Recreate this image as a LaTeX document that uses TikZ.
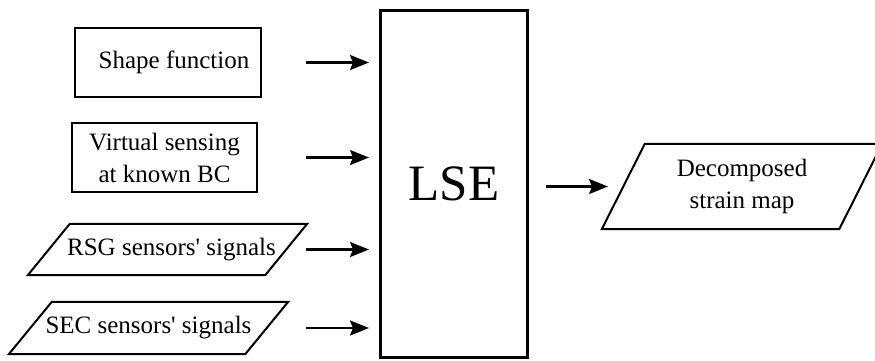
\documentclass[tikz,border=0pt]{standalone}
\usepackage{fontspec}
\setmainfont{Liberation Serif}
\usetikzlibrary{arrows.meta}

\begin{document}
\begin{tikzpicture}[x=1pt,y=-1pt,
  every node/.style={font=\rmfamily\fontsize{25}{32}\selectfont, inner sep=0pt},
  inbox/.style={draw, line width=2pt, minimum height=69pt, align=center},
  databody/.style={minimum width=279pt, align=center},
  dataedge/.style={line width=2pt, line join=miter},
  arr/.style={line width=2.2pt, -{Stealth[length=19pt,width=15pt,inset=3pt]}}]

\useasboundingbox (0,0) rectangle (875,360);

% inputs
\node[inbox, minimum width=186pt] (sf) at (168,62.5) {\hspace*{12pt}Shape function};
\node[inbox, minimum width=185pt] (vs) at (164.5,157.5) {Virtual sensing\\at known BC};

\node[databody, minimum height=51pt] (rsg) at (167.5,249.5)
  {\hspace*{8pt}RSG sensors\textquotesingle{} signals};
\draw[dataedge] ([xshift=42pt]rsg.north west) -- (rsg.north east)
  -- ([xshift=-42pt]rsg.south east) -- (rsg.south west) -- cycle;

\node[databody, minimum height=52pt] (sec) at (148.5,328)
  {SEC sensors\textquotesingle{} signals};
\draw[dataedge] ([xshift=43pt]sec.north west) -- (sec.north east)
  -- ([xshift=-43pt]sec.south east) -- (sec.south west) -- cycle;

% estimator
\node[draw, line width=3pt, minimum width=147pt, minimum height=347pt,
      font=\rmfamily\fontsize{51}{60}\selectfont] (lse) at (454,184) {LSE};

% output
\node[databody, minimum width=280pt, minimum height=85pt] (dm) at (742,186.5)
  {Decomposed\\strain map};
\draw[dataedge] ([xshift=43pt]dm.north west) -- (dm.north east)
  -- ([xshift=-43pt]dm.south east) -- (dm.south west) -- cycle;

% arrow columns
\coordinate (srcx) at (306,0);
\coordinate (dstx) at (369,0);
\coordinate (outs) at (546,0);
\coordinate (oute) at (608,0);

\foreach \n in {sf,vs,rsg,sec}
  \draw[arr] (\n -| srcx) -- (\n -| dstx);
\draw[arr] (dm -| outs) -- (dm -| oute);

\end{tikzpicture}
\end{document}
